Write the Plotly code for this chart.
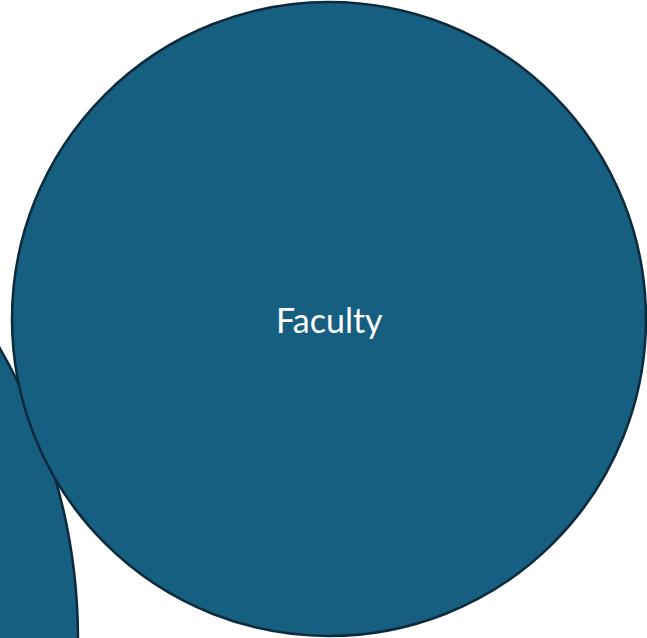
import plotly.graph_objects as go

# bubbles (packed-circle layout), units = pixels of the canvas
labels = ["", "Faculty"]
cx = [-505, 329]
cy = [-2, 319]      # measured from the bottom of the canvas
radius = [583, 317]

fill = "#175f80"
edge = "#0b2a3c"

fig = go.Figure()

# invisible trace so the axes exist
fig.add_trace(go.Scatter(x=cx, y=cy, mode="markers", marker=dict(opacity=0),
                         hoverinfo="skip", showlegend=False))

for lab, x, y, r in zip(labels, cx, cy, radius):
    fig.add_shape(type="circle", xref="x", yref="y",
                  x0=x - r, x1=x + r, y0=y - r, y1=y + r,
                  fillcolor=fill, line=dict(color=edge, width=2.5), layer="above")
    if lab:
        fig.add_annotation(x=x, y=y, text=lab, showarrow=False,
                           font=dict(family="Lato, Open Sans, sans-serif", size=34, color="white"))

fig.update_xaxes(range=[0, 647], visible=False, fixedrange=True)
fig.update_yaxes(range=[0, 638], visible=False, fixedrange=True)
fig.update_layout(width=647, height=638, margin=dict(l=0, r=0, t=0, b=0),
                  plot_bgcolor="white", paper_bgcolor="white")

# drop the default 8px page margin so the canvas sits at the window corner
fig.write_html("out.html", config={"displayModeBar": False},
               post_script="document.body.style.margin='0';document.body.style.overflow='hidden';")
